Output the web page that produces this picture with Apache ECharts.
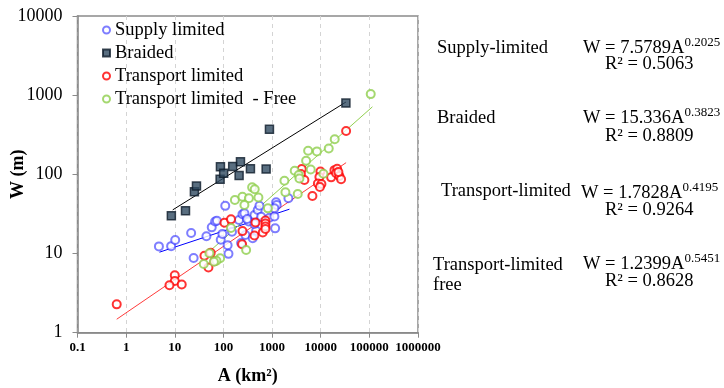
<!DOCTYPE html>
<html><head><meta charset="utf-8">
<script src="https://cdn.jsdelivr.net/npm/echarts@6/dist/echarts.min.js"></script>
<style>html,body{margin:0;padding:0;background:#fff}#c{width:724px;height:388px}</style>
</head><body><div id="c"></div>
<script>
// ---- data ----
var supplyA = [4.72, 8.41, 10.2, 21.7, 24.4, 44.7, 57.5, 67.5, 73.5, 88, 95.3, 109, 122, 127, 150, 209, 246, 231, 283, 331, 434, 470, 400, 507, 550, 596, 883, 1117, 1211, 1247, 2168, 1156, 434, 270, 307, 1117];
var supplyW = [12.3, 12.4, 14.8, 18.2, 8.77, 16.5, 21.4, 25.4, 26, 14.9, 17.7, 40, 12.7, 9.9, 18.8, 26.5, 31.3, 13.6, 17.1, 25.4, 30.6, 19.4, 15.6, 35.4, 40.1, 29.2, 28.3, 29.3, 44.3, 41, 49.8, 20.8, 23.6, 32.2, 27.3, 37.2];

var braidedA = [8.5, 16.6, 25.3, 27.9, 85.5, 86.8, 101, 155, 224, 210, 359, 755, 883, 32960];
var braidedW = [30, 34.7, 60.3, 71.2, 86.5, 124.7, 103, 126, 144, 96.6, 118, 116.7, 370, 795];

var transportA = [0.64, 10, 10, 7.77, 13.9, 40.7, 54.8, 49.2, 65.6, 105, 143, 246, 242, 434, 455, 643, 730, 730, 730, 730, 4070, 3920, 4620, 9860, 9400, 8750, 10340, 9630, 6750, 16370, 19150, 21750, 20730, 24230, 26240, 23110, 33270];
var transportW = [2.28, 5.3, 4.5, 3.97, 4.06, 9.38, 10.2, 6.66, 7.97, 24.5, 27, 19.2, 13.1, 16.9, 24.6, 18.4, 26.1, 23.9, 21.9, 20.4, 116.7, 100.9, 84.8, 108.4, 92.5, 76.5, 75.5, 69.2, 53.2, 91.6, 113, 117.7, 103, 95.1, 86.5, 107, 352];

var freeA = [106700, 19400, 14620, 8360, 5510, 5010, 6230, 11370, 2920, 3530, 3650, 1795, 1880, 3370, 389, 440, 172, 246, 334, 524, 270, 822, 143, 293, 85.5, 71.8, 63.8, 51.5, 39.4];
var freeW = [1032, 277, 212, 195, 199, 148.5, 115, 102, 111, 98, 88.5, 83, 59.3, 56.4, 68.5, 64.7, 47.4, 52.1, 49.8, 51, 41, 37.2, 21, 11.1, 8.7, 8.1, 7.88, 10.1, 7.37];

// trend line end points (A, W)
var supplyTrendA = [4.84, 2275];     var supplyTrendW = [10.4, 36.3];
var braidedTrendA = [9.07, 33000];   var braidedTrendW = [35.6, 819];
var transportTrendA = [0.64, 33270]; var transportTrendW = [1.48, 140.5];
var freeTrendA = [38.8, 115600];     var freeTrendW = [9.1, 713];

var seriesNames = ['Supply limited', 'Braided', 'Transport limited', 'Transport limited  - Free'];
var xTicks = [0.1, 1, 10, 100, 1000, 10000, 100000, 1000000];
var yTicks = [1, 10, 100, 1000, 10000];

var eqLabels = [
  {name: 'Supply-limited', name2: '', eq: 'W = 7.5789A', exp: '0.2025', r2: 'R² = 0.5063'},
  {name: 'Braided', name2: '', eq: 'W = 15.336A', exp: '0.3823', r2: 'R² = 0.8809'},
  {name: 'Transport-limited', name2: '', eq: 'W = 1.7828A', exp: '0.4195', r2: 'R² = 0.9264'},
  {name: 'Transport-limited', name2: 'free', eq: 'W = 1.2399A', exp: '0.5451', r2: 'R² = 0.8628'}
];

function pairs(a, b) { return a.map(function (v, i) { return [v, b[i]]; }); }

var FONT = 'Liberation Serif';
var chart = echarts.init(document.getElementById('c'), null, {renderer: 'canvas'});

function scatter(name, a, w, color, sym, extra) {
  var s = {
    name: name, type: 'scatter', data: pairs(a, w),
    symbol: sym || 'emptyCircle', symbolSize: 8,
    itemStyle: {color: color, borderColor: color, borderWidth: 1.8},
    z: 3
  };
  if (extra) for (var k in extra) s[k] = extra[k];
  return s;
}
function trend(a, w, color) {
  return {type: 'line', data: pairs(a, w), symbol: 'none', silent: true,
    lineStyle: {color: color, width: 1}, z: 2};
}

// right-hand labels
var textX1 = [437, 437, 441, 433];
var textY1 = [50, 120, 193, 267];
var eqX = [583, 583, 581, 583];
var eqY = [47, 117, 192, 263];
var r2X = [605, 605, 605, 605];
var r2Y = [66, 138, 212, 283];
var graphics = [];
eqLabels.forEach(function (e, i) {
  graphics.push({type: 'text', left: textX1[i], top: textY1[i] - 11,
    style: {text: e.name, font: '18.5px "' + FONT + '"', fill: '#000'}});
  if (e.name2) graphics.push({type: 'text', left: textX1[i], top: textY1[i] + 9,
    style: {text: e.name2, font: '18.5px "' + FONT + '"', fill: '#000'}});
  graphics.push({type: 'text', left: eqX[i], top: eqY[i] - 11,
    style: {text: '{m|' + e.eq + '}{s|' + e.exp + '}', fill: '#000',
      rich: {m: {fontSize: 18.5, fontFamily: FONT, lineHeight: 22, verticalAlign: 'bottom'},
             s: {fontSize: 13, fontFamily: FONT, lineHeight: 14, verticalAlign: 'top'}}}});
  graphics.push({type: 'text', left: r2X[i], top: r2Y[i] - 11,
    style: {text: e.r2, font: '18.5px "' + FONT + '"', fill: '#000'}});
});

var option = {
  backgroundColor: '#fff',
  animation: false,
  textStyle: {fontFamily: FONT},
  grid: {left: 77.5, right: 306, top: 16, bottom: 55.3, show: true, borderColor: '#8a8a8a', borderWidth: 1.5,
    backgroundColor: 'transparent', containLabel: false, outerBoundsMode: 'none'},
  legend: {
    orient: 'vertical', left: 102, top: 19, padding: 0, itemWidth: 7, itemHeight: 7, itemGap: 1,
    data: [
      {name: seriesNames[0], icon: 'emptyCircle', itemStyle: {borderWidth: 1}},
      {name: seriesNames[1], icon: 'rect'},
      {name: seriesNames[2], icon: 'emptyCircle', itemStyle: {borderWidth: 1}},
      {name: seriesNames[3], icon: 'emptyCircle', itemStyle: {borderWidth: 1}}
    ],
    textStyle: {fontFamily: '"Liberation Serif", serif', fontSize: 18.5, color: '#000', lineHeight: 22}
  },
  xAxis: {
    type: 'log', logBase: 10, min: xTicks[0], max: xTicks[xTicks.length - 1],
    name: 'A (km²)', nameLocation: 'middle', nameGap: 35, nameMoveOverlap: false,
    nameTextStyle: {fontFamily: FONT, fontSize: 18, fontWeight: 'bold', color: '#000'},
    axisLine: {lineStyle: {color: '#8a8a8a', width: 1.5}},
    axisTick: {show: true, inside: false, length: 5, lineStyle: {color: '#8a8a8a'}},
    axisLabel: {fontFamily: FONT, fontSize: 13, fontWeight: 'bold', color: '#000', margin: 8,
      formatter: function (v) { return String(Number(v.toPrecision(6))); }},
    splitLine: {show: true, lineStyle: {color: '#d4d4d4', type: [4, 4], width: 1}}
  },
  yAxis: {
    type: 'log', logBase: 10, min: yTicks[0], max: yTicks[yTicks.length - 1],
    name: 'W (m)', nameLocation: 'middle', nameGap: 50, nameRotate: 90, nameMoveOverlap: false,
    nameTextStyle: {fontFamily: FONT, fontSize: 18, fontWeight: 'bold', color: '#000'},
    axisLine: {lineStyle: {color: '#8a8a8a', width: 1.5}},
    axisTick: {show: true, inside: false, length: 5, lineStyle: {color: '#8a8a8a'}},
    axisLabel: {fontFamily: FONT, fontSize: 18, color: '#000', margin: 15,
      formatter: function (v) { return String(Number(v.toPrecision(6))); }},
    splitLine: {show: false}
  },
  graphic: graphics,
  series: [
    trend(supplyTrendA, supplyTrendW, '#0000ff'),
    trend(braidedTrendA, braidedTrendW, '#000000'),
    trend(transportTrendA, transportTrendW, '#ff3b3b'),
    trend(freeTrendA, freeTrendW, '#92d050'),
    scatter(seriesNames[0], supplyA, supplyW, 'rgba(40,40,255,0.75)'),
    scatter(seriesNames[1], braidedA, braidedW, '#2e4a62', 'rect', {itemStyle: {color: '#304a60', borderColor: '#0e1c2b', borderWidth: 1.5}}),
    scatter(seriesNames[2], transportA, transportW, '#ff0000'),
    scatter(seriesNames[3], freeA, freeW, '#8fce4c')
  ]
};
chart.setOption(option);
</script>
</body></html>
